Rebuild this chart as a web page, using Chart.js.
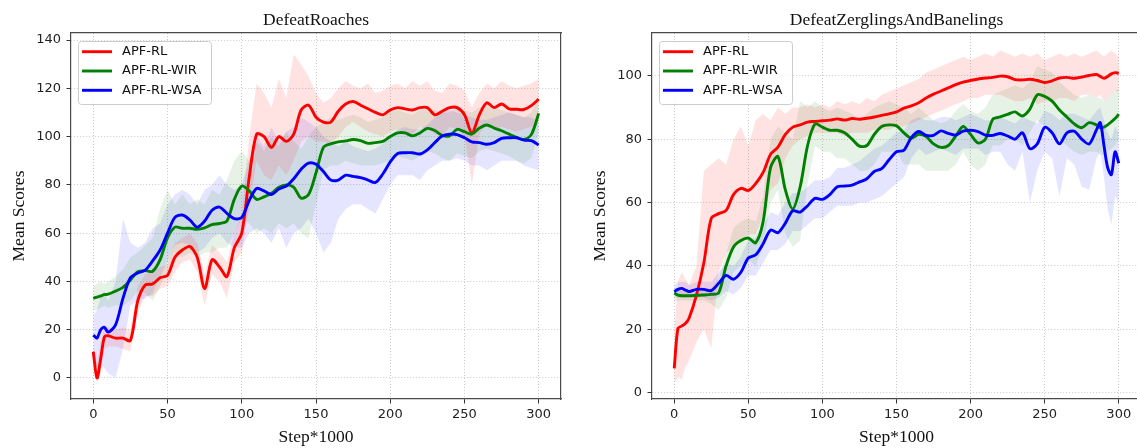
<!DOCTYPE html>
<html>
<head>
<meta charset="utf-8">
<script src="https://cdn.jsdelivr.net/npm/chart.js@4.4.1/dist/chart.umd.min.js"></script>
<style>
  html, body { margin: 0; padding: 0; background: #fff; overflow: hidden; }
  #wrap { position: relative; width: 1137px; height: 448px; overflow: hidden; }
  canvas { position: absolute; top: 0; }
</style>
</head>
<body>
<div id="wrap">
  <canvas id="roaches" width="570" height="448" style="left:0"></canvas>
  <canvas id="zerg" width="580" height="448" style="left:570px"></canvas>
</div>
<script>
// ---- DefeatRoaches ----
const roachSteps = [0, 2.5, 5, 7.5, 10, 15, 20, 25, 30, 35, 40, 45, 50, 55, 60, 65, 70, 75, 80, 85,
  90, 95, 100, 105, 110, 115, 120, 125, 130, 135, 140, 145, 150, 155, 160, 165, 170, 175, 180, 185,
  190, 195, 200, 205, 210, 215, 220, 225, 230, 235, 240, 245, 250, 255, 260, 265, 270, 275, 280, 285,
  290, 295, 300];
const roachRed = [10.9, 0, 8, 17, 17.5, 16.5, 16.5, 15.5, 32, 38.5,
  39, 41.5, 42.5, 50, 53, 54.5, 50, 37, 49, 46,
  42, 54, 60, 83, 101, 100, 95.5, 100, 98, 101,
  111, 113, 108, 106, 106, 110.5, 113.5, 114.5, 113, 111.5,
  110, 109, 111, 112, 111.5, 111, 112, 112, 109, 110.5,
  112, 112, 109, 101.5, 109, 114, 112, 113.5, 111.5, 111.3,
  111.2, 112.8, 115.5];
const roachGreen = [33, 33.5, 34, 34.5, 34.7, 36, 37.5, 40.6, 44, 44.5,
  44.2, 49, 58, 62.5, 62, 62, 61.6, 62.2, 63.5, 64,
  65, 74, 79.5, 77.5, 74, 75, 76.5, 79, 80, 79,
  74.5, 76, 85, 95.5, 97, 97.8, 98.2, 98.8, 98.3, 97.2,
  97.5, 98, 100, 101.5, 101.5, 100.3, 101.5, 103.4, 102.5, 100.5,
  100.3, 103, 102, 101, 103.5, 104.8, 103.5, 102.4, 101, 99.7,
  98.8, 100.8, 109.6];
const roachBlue = [17.8, 16.5, 20, 21, 19, 22, 33, 41.5, 43.5, 44.7,
  48.5, 53, 60, 66.5, 67.5, 65.5, 62.5, 65, 69.5, 70.8,
  68.2, 66, 66.5, 73.5, 78.5, 77.5, 76, 78.3, 79.5, 82.5,
  86.5, 89, 88.5, 85.5, 82, 82, 84, 83.5, 83, 82,
  81, 84.5, 89.5, 93, 93.3, 93.3, 92.8, 94.5, 97.5, 100.2,
  101, 100.8, 99.5, 97.8, 97.5, 96.8, 97.5, 99.3, 99.5, 99.5,
  98.5, 98.3, 96.5];
// faixas (min / max das execucoes)
const roachRedHi = [14, 6, 15, 22, 21, 20, 21, 20, 38, 43,
  44, 46, 47, 56, 58, 60, 56, 43, 55, 52,
  48, 60, 68, 100, 122, 118, 112, 124, 116, 134,
  130, 125, 118, 114, 116, 120, 123, 121, 120, 122,
  118, 119, 121, 122, 120, 123, 121, 123, 119, 118,
  122, 121, 119, 112, 118, 122, 120, 123, 121, 120,
  121, 122, 124];
const roachRedLo = [6, -2, 2, 12, 13, 13, 12, 11, 27, 34,
  34, 37, 38, 44, 48, 49, 44, 30, 43, 40,
  33, 48, 52, 70, 90, 84, 82, 88, 84, 90,
  98, 100, 98, 98, 97, 100, 104, 106, 104, 102,
  101, 100, 102, 103, 102, 101, 104, 103, 101, 100,
  104, 103, 100, 80, 101, 105, 103, 104, 103, 102,
  103, 104, 107];
const roachGreenHi = [38, 39, 40, 39, 40, 42, 45, 50, 52, 55,
  58, 70, 78, 72, 76, 72, 74, 72, 78, 76,
  82, 90, 94, 90, 98, 94, 100, 96, 102, 98,
  95, 100, 104, 106, 108, 107, 108, 109, 108, 106,
  107, 108, 110, 111, 110, 109, 111, 112, 111, 110,
  110, 112, 111, 110, 112, 113, 112, 111, 110, 109,
  108, 110, 116];
const roachGreenLo = [28, 28, 29, 30, 29, 30, 30, 32, 36, 35,
  32, 38, 44, 52, 50, 52, 50, 52, 52, 54,
  54, 60, 66, 64, 60, 62, 60, 64, 62, 64,
  60, 58, 72, 86, 88, 88, 90, 89, 88, 88,
  88, 89, 90, 92, 91, 90, 92, 94, 93, 91,
  90, 93, 92, 91, 94, 95, 94, 93, 92, 90,
  89, 91, 102];
const roachBlueHi = [26, 28, 34, 36, 32, 40, 66, 56, 54, 56,
  62, 64, 72, 76, 78, 76, 72, 78, 80, 84,
  80, 78, 80, 90, 100, 96, 104, 98, 102, 104,
  108, 106, 104, 100, 98, 96, 98, 96, 95, 94,
  95, 97, 100, 103, 104, 103, 103, 105, 108, 110,
  111, 110, 109, 108, 107, 107, 108, 109, 110, 109,
  108, 108, 106];
const roachBlueLo = [10, 4, 6, 4, 2, 0, 12, 30, 32, 33,
  35, 42, 48, 55, 56, 55, 52, 54, 58, 60,
  56, 54, 54, 60, 62, 60, 56, 62, 54, 60,
  62, 66, 60, 52, 56, 66, 70, 72, 72, 70,
  68, 74, 80, 84, 84, 84, 82, 86, 88, 90,
  90, 91, 90, 88, 88, 86, 88, 90, 90, 90,
  88, 87, 86];
const roachYTicks = [0, 20, 40, 60, 80, 100, 120, 140];

// ---- DefeatZerglingsAndBanelings ----
const zergSteps = [0, 2.5, 5, 7.5, 10, 15, 20, 25, 30, 35, 40, 45, 50, 55, 60, 65, 70, 75, 80, 85,
  90, 95, 100, 105, 110, 115, 120, 125, 130, 135, 140, 145, 150, 155, 160, 165, 170, 175, 180, 185,
  190, 195, 200, 205, 210, 215, 220, 225, 230, 235, 240, 245, 250, 255, 260, 265, 270, 275, 280, 285,
  287.5, 290, 292.5, 295, 297.5, 300];
const zergRed = [7.7, 20.3, 21, 21.8, 23.5, 30.8, 41, 55, 56.5, 57.5,
  62.5, 64.5, 63.8, 66, 69.5, 75.2, 77.5, 81.5, 83.8, 84.5,
  85.4, 85.6, 85.8, 86, 86.4, 86, 86.5, 86.3, 86.6, 87,
  87.5, 88, 88.6, 89.8, 90.5, 91.5, 93, 94.2, 95.2, 96.2,
  97.2, 98, 98.5, 99, 99.3, 99.5, 99.9, 99.7, 98.8, 98.7,
  98.9, 98.5, 97.9, 98.4, 99.3, 99.5, 99.2, 99.6, 100.1, 100.4,
  99.8, 99.2, 99.8, 100.6, 101, 100.8];
const zergGreen = [31.4, 30.8, 30.6, 30.6, 30.6, 30.7, 30.8, 31, 31.5, 40,
  46, 48, 48.8, 47.3, 54, 71, 74.5, 64, 58, 65,
  78, 84.8, 83.8, 82.8, 82.8, 82, 80, 77.8, 78, 81.5,
  84, 84.5, 84.2, 82, 80.3, 81.5, 80.8, 78.5, 77.4, 78,
  81, 84, 81.5, 78.8, 80, 86.3, 87, 87.8, 88.6, 87.3,
  89.5, 94, 93.5, 92, 89.2, 87, 84.8, 83.6, 85.2, 84.5,
  83.6, 83.8, 84.5, 85.5, 86.5, 87.9];
const zergBlue = [31.9, 32.6, 32.9, 32.4, 31.9, 32.6, 32.6, 32.2, 34.5, 37,
  35.8, 38, 42.5, 43.5, 47, 51.3, 50.5, 53.5, 57.4, 57,
  59, 61.3, 61, 62.5, 65, 65.2, 65.5, 66.5, 67.5, 69.8,
  70.7, 73.5, 76, 76.5, 80.5, 82.4, 81.2, 81.2, 82.6, 81.8,
  81.3, 82.5, 82.8, 82.4, 81.3, 81.2, 81.8, 81, 80, 82,
  77, 78.5, 83.7, 82, 78.5, 82, 82.5, 80, 78.5, 83,
  85.2, 78, 71, 68.8, 76, 72.4];
const zergRedHi = [20, 35, 38, 36, 34, 40, 70, 72, 74, 72,
  80, 84, 78, 86, 88, 86, 90, 88, 90, 90,
  91, 90, 91, 90, 92, 91, 92, 91, 93, 92,
  94, 95, 96, 97, 98, 99, 101, 102, 103, 104,
  105, 106, 105, 106, 107, 106, 108, 107, 106, 107,
  106, 107, 105, 106, 107, 106, 107, 106, 107, 108,
  107, 106, 107, 108, 107, 106];
const zergRedLo = [3, 5, 4, 8, 10, 16, 20, 14, 38, 44,
  46, 48, 50, 50, 56, 64, 66, 74, 78, 80,
  81, 82, 82, 82, 82, 81, 82, 82, 82, 83,
  83, 83, 84, 84, 85, 86, 87, 88, 89, 90,
  91, 92, 93, 93, 94, 94, 94, 93, 92, 92,
  93, 91, 92, 92, 93, 93, 92, 94, 94, 93,
  94, 92, 93, 94, 95, 95];
const zergGreenHi = [33, 33, 32, 32, 32, 32, 33, 33, 36, 44,
  52, 54, 55, 54, 62, 80, 84, 82, 80, 92,
  90, 92, 90, 89, 90, 89, 88, 86, 88, 90,
  91, 92, 91, 90, 88, 90, 88, 86, 85, 86,
  89, 91, 89, 88, 90, 94, 95, 96, 97, 96,
  98, 103, 102, 101, 98, 96, 94, 93, 94, 93,
  93, 92, 93, 94, 95, 96];
const zergGreenLo = [29, 29, 29, 29, 29, 29, 29, 28, 26, 30,
  38, 40, 42, 40, 46, 60, 64, 50, 46, 48,
  66, 78, 76, 76, 74, 74, 72, 70, 70, 72,
  76, 76, 76, 72, 72, 72, 70, 70, 70, 70,
  72, 76, 72, 70, 72, 78, 78, 80, 80, 78,
  82, 86, 84, 82, 80, 78, 76, 75, 76, 76,
  75, 75, 76, 77, 78, 80];
const zergBlueHi = [34, 35, 35, 35, 34, 35, 35, 35, 38, 41,
  40, 43, 48, 49, 53, 57, 56, 60, 63, 63,
  65, 67, 67, 68, 71, 71, 72, 73, 75, 77,
  78, 80, 82, 83, 86, 87, 86, 86, 87, 87,
  86, 87, 88, 87, 86, 86, 87, 86, 85, 87,
  86, 85, 89, 88, 86, 88, 88, 87, 86, 89,
  90, 86, 82, 80, 84, 82];
const zergBlueLo = [30, 30, 30, 30, 30, 30, 30, 29, 30, 32,
  31, 33, 37, 37, 41, 45, 45, 47, 51, 51,
  53, 55, 55, 57, 59, 59, 59, 60, 60, 61,
  62, 64, 66, 68, 74, 77, 75, 76, 77, 76,
  75, 77, 77, 77, 75, 76, 76, 72, 70, 76,
  60, 70, 76, 74, 62, 74, 72, 65, 64, 74,
  76, 68, 58, 53, 62, 60];
const zergYTicks = [0, 20, 40, 60, 80, 100];

const xTicks = [0, 50, 100, 150, 200, 250, 300];
const seriesNames = ['APF-RL', 'APF-RL-WIR', 'APF-RL-WSA'];
const lineColors = ['#ff0000', '#008000', '#0000ff'];
const bandColors = ['rgba(255,0,0,0.11)', 'rgba(0,128,0,0.10)', 'rgba(0,0,255,0.10)'];

const legendaCaixa = {
  id: 'legendaCaixa',
  afterDraw(chart) {
    const { ctx, chartArea } = chart;
    const linhas = chart.data.datasets.filter(d => d.label);
    const x0 = chartArea.left + 7, y0 = chartArea.top + 8;
    ctx.save();
    ctx.beginPath();
    ctx.roundRect(x0 + 0.5, y0 + 0.5, 133, 63, 3);
    ctx.fillStyle = 'rgba(255,255,255,0.8)';
    ctx.fill();
    ctx.strokeStyle = '#cccccc';
    ctx.lineWidth = 1;
    ctx.stroke();
    ctx.font = '13px "DejaVu Sans"';
    ctx.textBaseline = 'middle';
    linhas.forEach((d, i) => {
      const yy = y0 + 10.7 + i * 19.3;
      ctx.beginPath();
      ctx.moveTo(x0 + 4, yy);
      ctx.lineTo(x0 + 34, yy);
      ctx.strokeStyle = d.borderColor;
      ctx.lineWidth = 2.9;
      ctx.stroke();
      ctx.fillStyle = '#111';
      ctx.fillText(d.label, x0 + 44, yy);
    });
    ctx.restore();
  }
};

function montar_grafico(idCanvas, cfg) {
  const ctx = document.getElementById(idCanvas);
  const pontos = (vals) => cfg.steps.map((s, i) => ({ x: s, y: vals[i] }));
  const datasets = [];
  cfg.media.forEach((vals, k) => {
    datasets.push({
      label: seriesNames[k], data: pontos(vals), borderColor: lineColors[k],
      borderWidth: 2.9, pointRadius: 0, tension: 0.3, fill: false, order: 3 - k,
    });
  });
  cfg.alto.forEach((vals, k) => {
    datasets.push({
      label: '', data: pontos(vals), borderColor: 'transparent', borderWidth: 0,
      backgroundColor: bandColors[k], pointRadius: 0, tension: 0, fill: '+1', order: 10,
    });
    datasets.push({
      label: '', data: pontos(cfg.baixo[k]), borderColor: 'transparent', borderWidth: 0,
      pointRadius: 0, tension: 0, fill: false, order: 10,
    });
  });

  const spine = { display: true, color: '#4a4a4a', width: 1.2 };
  // no v4 o tracejado da grade fica em border.dash
  const spineGrade = { ...spine, dash: [1, 2] };
  const tickFont = { family: 'DejaVu Sans', size: 13 };
  const serif = { family: 'Liberation Serif', size: 17.5, lineHeight: 1.2 };
  const grade = {
    color: '#c4c4c4', lineWidth: 0.9,
    tickColor: '#333', tickLength: 4.5, tickWidth: 1, tickBorderDash: [],
  };

  return new Chart(ctx, {
    type: 'line',
    data: { datasets },
    options: {
      responsive: false,
      animation: false,
      devicePixelRatio: 1,
      layout: { padding: 0 },
      plugins: { legend: { display: false }, tooltip: { enabled: false } },
      scales: {
        x: {
          type: 'linear', min: -15, max: 315,
          afterBuildTicks: s => { s.ticks = xTicks.map(v => ({ value: v })); },
          afterFit: s => { s.height = 49; },
          ticks: { font: tickFont, color: '#222', padding: 3, autoSkip: false, maxRotation: 0 },
          grid: grade, border: spineGrade,
          title: { display: true, text: 'Step*1000', font: serif, color: '#111', padding: { top: 0, bottom: 0.5 } },
        },
        y: {
          type: 'linear', min: cfg.yMin, max: cfg.yMax,
          afterBuildTicks: s => { s.ticks = cfg.yTicks.map(v => ({ value: v })); },
          afterFit: s => { s.width = cfg.yWidth; },
          ticks: { font: tickFont, color: '#222', padding: 5.5, autoSkip: false },
          grid: grade, border: spineGrade,
          title: { display: true, text: 'Mean Scores', font: serif, color: '#111', padding: { top: cfg.yTitlePad, bottom: 0 } },
        },
        x2: {
          type: 'linear', position: 'top', min: -15, max: 315,
          afterFit: s => { s.height = 33; },
          ticks: { display: false },
          grid: { drawOnChartArea: false, drawTicks: false },
          border: spine,
          title: { display: true, text: cfg.titulo, font: serif, color: '#111', padding: { top: 10, bottom: 0 } },
        },
        y2: {
          type: 'linear', position: 'right',
          afterFit: s => { s.width = 9; },
          ticks: { display: false },
          grid: { drawOnChartArea: false, drawTicks: false },
          border: spine,
        },
      },
    },
    plugins: [legendaCaixa],
  });
}

montar_grafico('roaches', {
  titulo: 'DefeatRoaches', steps: roachSteps,
  media: [roachRed, roachGreen, roachBlue],
  alto: [roachRedHi, roachGreenHi, roachBlueHi],
  baixo: [roachRedLo, roachGreenLo, roachBlueLo],
  yMin: -8.7, yMax: 142.9, yTicks: roachYTicks, yWidth: 71, yTitlePad: 8.5,
});
montar_grafico('zerg', {
  titulo: 'DefeatZerglingsAndBanelings', steps: zergSteps,
  media: [zergRed, zergGreen, zergBlue],
  alto: [zergRedHi, zergGreenHi, zergBlueHi],
  baixo: [zergRedLo, zergGreenLo, zergBlueLo],
  yMin: -2, yMax: 113.5, yTicks: zergYTicks, yWidth: 82, yTitlePad: 19.5,
});
</script>
</body>
</html>
